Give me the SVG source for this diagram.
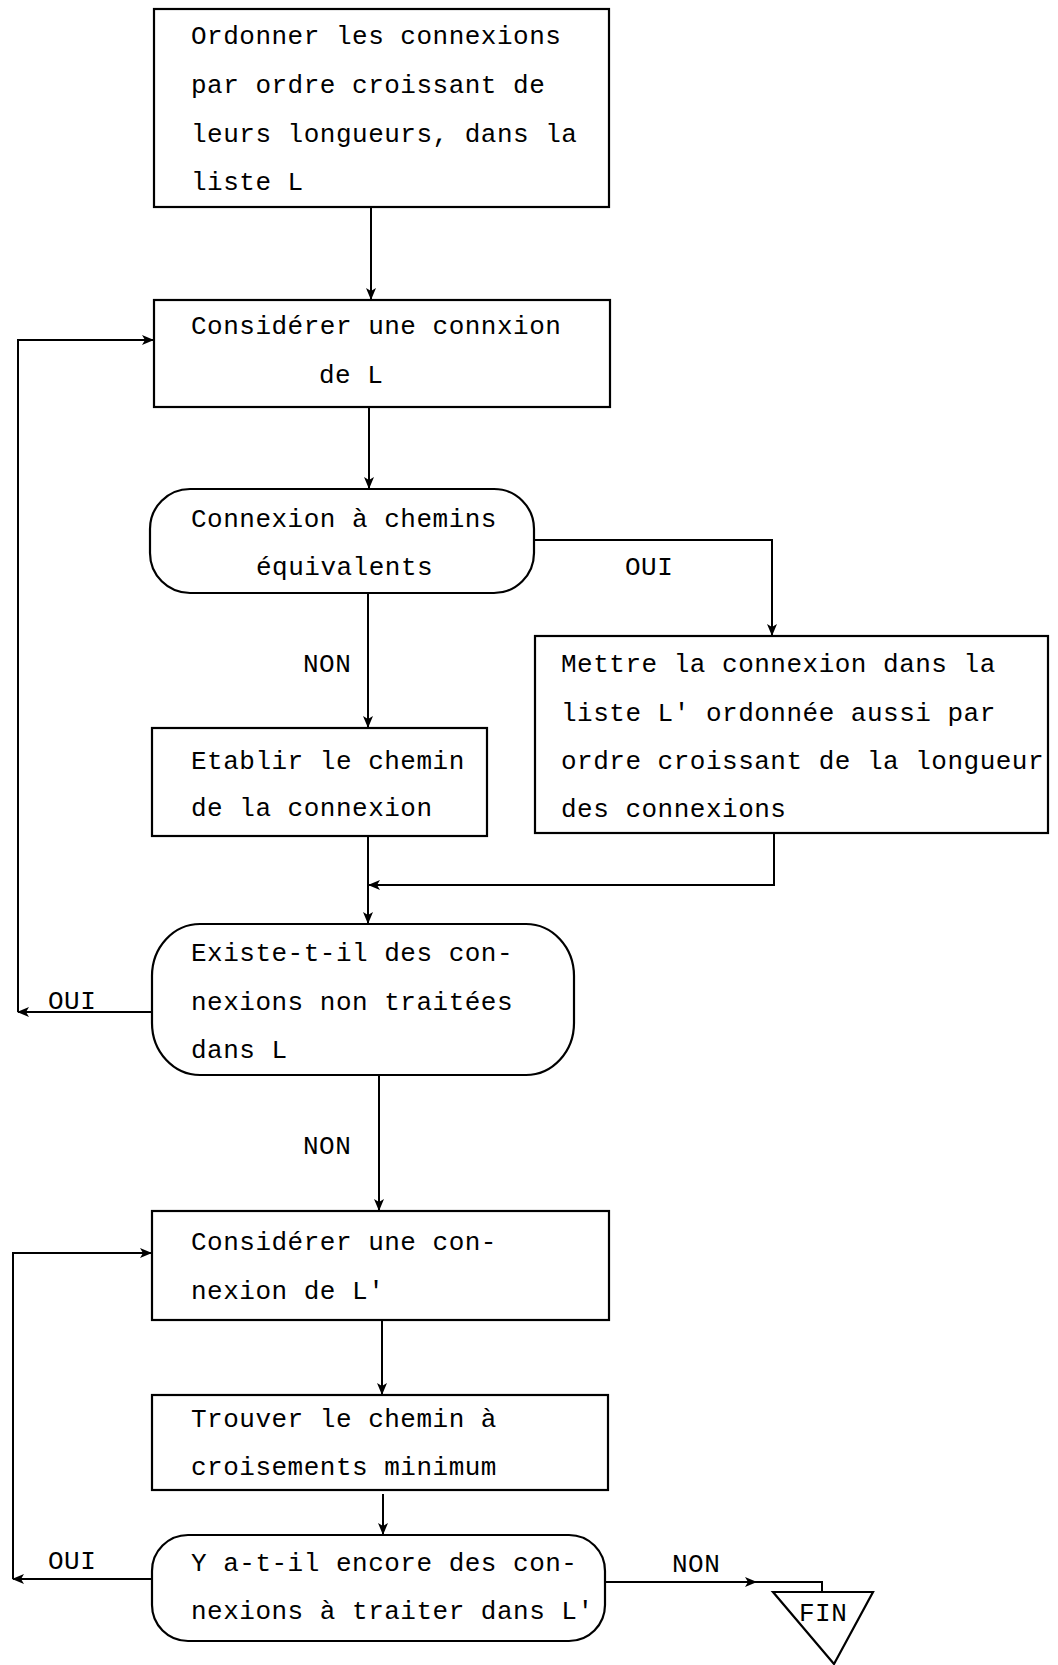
<svg xmlns="http://www.w3.org/2000/svg" width="1058" height="1665" viewBox="0 0 1058 1665">
<style>
.n{fill:#fff;stroke:#000;stroke-width:2.2}
.c{fill:none;stroke:#000;stroke-width:2}
text{font-family:"Liberation Mono","DejaVu Sans Mono",monospace;font-size:26px;letter-spacing:0.5px;fill:#000}
</style>
<defs>
<marker id="a" viewBox="0 0 12 10" refX="11" refY="5" markerWidth="12" markerHeight="10" markerUnits="userSpaceOnUse" orient="auto">
<path d="M0,0 L12,5 L0,10 L3,5 z" fill="#000"/>
</marker>
</defs>
<rect width="1058" height="1665" fill="#fff"/>
<g id="connectors">
<path class="c" d="M371,207 V299" marker-end="url(#a)"/>
<path class="c" d="M369,407 V488" marker-end="url(#a)"/>
<path class="c" d="M534,540 H772 V635" marker-end="url(#a)"/>
<path class="c" d="M368,593 V727" marker-end="url(#a)"/>
<path class="c" d="M368,836 V923" marker-end="url(#a)"/>
<path class="c" d="M774,833 V885 H369" marker-end="url(#a)"/>
<path class="c" d="M152,1012 H18" marker-end="url(#a)"/>
<path class="c" d="M18,1012 V340 H153" marker-end="url(#a)"/>
<path class="c" d="M379,1075 V1210" marker-end="url(#a)"/>
<path class="c" d="M382,1320 V1394" marker-end="url(#a)"/>
<path class="c" d="M383,1494 V1534" marker-end="url(#a)"/>
<path class="c" d="M152,1579 H13" marker-end="url(#a)"/>
<path class="c" d="M13,1579 V1253 H151" marker-end="url(#a)"/>
<path class="c" d="M605,1582 H756" marker-end="url(#a)"/>
<path class="c" d="M750,1582 H822 V1592"/>
<text x="625" y="575">OUI</text>
<text x="303" y="672">NON</text>
<text x="48" y="1009">OUI</text>
<text x="303" y="1154">NON</text>
<text x="48" y="1569">OUI</text>
<text x="672" y="1572">NON</text>
</g>
<g id="n1">
<rect class="n" x="154" y="9" width="455" height="198"/>
<text x="191" y="44">Ordonner les connexions</text>
<text x="191" y="93">par ordre croissant de</text>
<text x="191" y="142">leurs longueurs, dans la</text>
<text x="191" y="190">liste L</text>
</g>
<g id="n2">
<rect class="n" x="154" y="300" width="456" height="107"/>
<text x="191" y="334">Considérer une connxion</text>
<text x="319" y="383">de L</text>
</g>
<g id="d1">
<rect class="n" x="150" y="489" width="384" height="104" rx="40" ry="40"/>
<text x="191" y="527">Connexion à chemins</text>
<text x="256" y="575">équivalents</text>
</g>
<g id="n3">
<rect class="n" x="152" y="728" width="335" height="108"/>
<text x="191" y="769">Etablir le chemin</text>
<text x="191" y="816">de la connexion</text>
</g>
<g id="n4">
<rect class="n" x="535" y="636" width="513" height="197"/>
<text x="561" y="672">Mettre la connexion dans la</text>
<text x="561" y="721">liste L' ordonnée aussi par</text>
<text x="561" y="769">ordre croissant de la longueur</text>
<text x="561" y="817">des connexions</text>
</g>
<g id="d2">
<rect class="n" x="152" y="924" width="422" height="151" rx="48" ry="52"/>
<text x="191" y="961">Existe-t-il des con-</text>
<text x="191" y="1010">nexions non traitées</text>
<text x="191" y="1058">dans L</text>
</g>
<g id="n5">
<rect class="n" x="152" y="1211" width="457" height="109"/>
<text x="191" y="1250">Considérer une con-</text>
<text x="191" y="1299">nexion de L'</text>
</g>
<g id="n6">
<rect class="n" x="152" y="1395" width="456" height="95"/>
<text x="191" y="1427">Trouver le chemin à</text>
<text x="191" y="1475">croisements minimum</text>
</g>
<g id="d3">
<rect class="n" x="152" y="1535" width="453" height="106" rx="36" ry="36"/>
<text x="191" y="1571">Y a-t-il encore des con-</text>
<text x="191" y="1619">nexions à traiter dans L'</text>
</g>
<g id="fin">
<path class="n" d="M773,1592 H873 L834,1664 Z"/>
<text x="799" y="1621">FIN</text>
</g>
</svg>
